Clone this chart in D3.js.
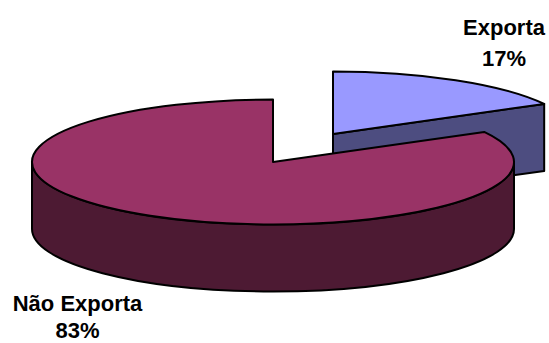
<!DOCTYPE html>
<html><head><meta charset="utf-8">
<style>html,body{margin:0;padding:0;background:#fff}svg{display:block}text{font-family:"Liberation Sans",Arial,sans-serif;font-weight:700;font-size:22px;fill:#000;text-anchor:middle}</style>
<script src="https://cdn.jsdelivr.net/npm/d3@7"></script>
</head><body><svg id="c" width="549" height="343"></svg>
<script>
const categories = ["Exporta", "Não Exporta"];
const values = [17, 83];
const topColors = ["#9999ff", "#993366"];
const sideColors = ["#4d4d80", "#4d1a33"];

const rx = 241, ry = 62.5, depth = 67;
const centers = [[333, 134], [273, 162]];
const labelAnchors = [[504, 34.5, 66], [77.5, 311, 338]];

const svg = d3.select("#c");
const slices = d3.pie().sort(null).value(d => d)(values);
const TAU = Math.PI * 2;
const P = (c, a, dz = 0) => [c[0] + rx * Math.sin(a), c[1] - ry * Math.cos(a) + dz];

function topPath(c, s) {
  const p0 = P(c, s.startAngle), p1 = P(c, s.endAngle);
  const large = (s.endAngle - s.startAngle) > Math.PI ? 1 : 0;
  return `M${c[0]},${c[1]}L${p0[0]},${p0[1]}A${rx},${ry} 0 ${large} 1 ${p1[0]},${p1[1]}Z`;
}
function rimPath(c, a0, a1) {
  const t0 = P(c, a0), t1 = P(c, a1), b1 = P(c, a1, depth), b0 = P(c, a0, depth);
  const large = (a1 - a0) > Math.PI ? 1 : 0;
  return `M${t0[0]},${t0[1]}A${rx},${ry} 0 ${large} 1 ${t1[0]},${t1[1]}L${b1[0]},${b1[1]}A${rx},${ry} 0 ${large} 0 ${b0[0]},${b0[1]}Z`;
}
function cutPath(c, a) {
  const p = P(c, a);
  return `M${c[0]},${c[1]}L${p[0]},${p[1]}L${p[0]},${p[1] + depth}L${c[0]},${c[1] + depth}Z`;
}

const g = svg.append("g").attr("stroke", "#000").attr("stroke-width", 2).attr("stroke-linejoin", "round");

// The exploded slice goes first: the large slice overlaps it
const a = slices[0], b = slices[1];
g.append("path").attr("d", cutPath(centers[0], a.endAngle)).attr("fill", sideColors[0]);
g.append("path").attr("d", topPath(centers[0], a)).attr("fill", topColors[0]);

// Large slice: the visible rim runs from the right extreme round the front to the left extreme
g.append("path").attr("d", rimPath(centers[1], TAU / 4, TAU * 3 / 4)).attr("fill", sideColors[1]);
g.append("path").attr("d", topPath(centers[1], b)).attr("fill", topColors[1]);

slices.forEach((s, i) => {
  const [x, y1, y2] = labelAnchors[i];
  svg.append("text").attr("x", x).attr("y", y1).text(categories[i]);
  svg.append("text").attr("x", x).attr("y", y2).text(values[i] + "%");
});
</script></body></html>
